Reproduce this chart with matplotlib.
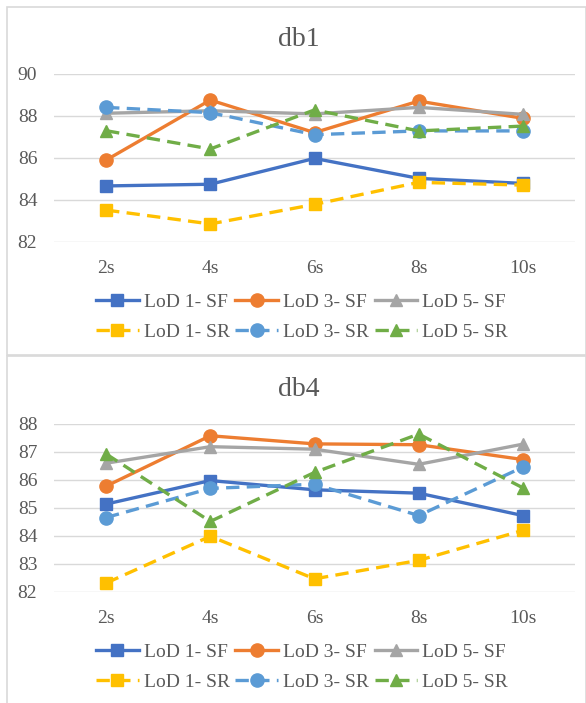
import matplotlib
matplotlib.use("Agg")
import matplotlib.pyplot as plt
from matplotlib.patches import Rectangle

# data
cats = ["2s", "4s", "6s", "8s", "10s"]
series_names = ["LoD 1- SF", "LoD 3- SF", "LoD 5- SF", "LoD 1- SR", "LoD 3- SR", "LoD 5- SR"]

db1_lod1_sf = [84.67, 84.75, 85.98, 85.03, 84.79]
db1_lod3_sf = [85.90, 88.76, 87.21, 88.71, 87.89]
db1_lod5_sf = [88.13, 88.25, 88.10, 88.41, 88.08]
db1_lod1_sr = [83.52, 82.86, 83.79, 84.84, 84.71]
db1_lod3_sr = [88.41, 88.16, 87.11, 87.29, 87.29]
db1_lod5_sr = [87.30, 86.43, 88.29, 87.29, 87.52]

db4_lod1_sf = [85.14, 85.98, 85.65, 85.53, 84.73]
db4_lod3_sf = [85.78, 87.58, 87.29, 87.26, 86.73]
db4_lod5_sf = [86.60, 87.19, 87.10, 86.56, 87.28]
db4_lod1_sr = [82.32, 83.99, 82.47, 83.13, 84.20]
db4_lod3_sr = [84.66, 85.70, 85.85, 84.73, 86.46]
db4_lod5_sr = [86.93, 84.52, 86.27, 87.64, 85.72]

colors = ["#4472C4", "#ED7D31", "#A5A5A5", "#FFC000", "#5B9BD5", "#70AD47"]
markers = ["s", "o", "^", "s", "o", "^"]
dashes = (0, (4, 2.2))
styles = ["-", "-", "-", dashes, dashes, dashes]

plt.rcParams["font.family"] = ["Liberation Serif", "DejaVu Serif"]
txt = "#595959"
W, H = 586, 703

fig = plt.figure(figsize=(W / 100, H / 100), dpi=100)

# panel borders (pixel coords -> figure fraction)
for top, bottom in [(7, 355), (356, 710)]:
    fig.patches.append(Rectangle((7 / W, 1 - bottom / H), (W - 7) / W, (bottom - top) / H,
                                 transform=fig.transFigure, fill=False,
                                 edgecolor="#D9D9D9", lw=1.2))


def draw_panel(top_px, title, data, ylo, yhi, step):
    ax = fig.add_axes([54 / W, 1 - (top_px + 168) / H, 521 / W, 168 / H])
    x = list(range(len(cats)))
    handles = []
    for vals, name, c, m, ls in zip(data, series_names, colors, markers, styles):
        h, = ax.plot(x, vals, color=c, marker=m, linestyle=ls, lw=2.4,
                     markersize=9 if m != "o" else 9.5, label=name, clip_on=False)
        handles.append(h)
    ax.set_xlim(-0.5, len(cats) - 0.5)
    ax.set_ylim(ylo, yhi)
    ax.set_yticks(range(ylo, yhi + 1, step))
    ax.set_xticks(x)
    ax.set_xticklabels(cats)
    ax.grid(axis="y", color="#D9D9D9", lw=1)
    ax.set_axisbelow(True)
    for s in ax.spines.values():
        s.set_visible(False)
    ax.tick_params(length=0, labelsize=14, colors=txt)
    ax.tick_params(axis="y", pad=12)
    ax.tick_params(axis="x", pad=13)
    fig.text(299 / W, 1 - (top_px - 35) / H, title, ha="center", va="center",
             fontsize=20, color=txt)
    # row-major legend order for ncol=3
    order = [0, 3, 1, 4, 2, 5]
    fig.legend([handles[i] for i in order], [series_names[i] for i in order],
               loc="center", bbox_to_anchor=(302 / W, 1 - (top_px + 243) / H),
               ncol=3, frameon=False, fontsize=14, labelcolor=txt,
               handlelength=2.2, handletextpad=0.25, columnspacing=0.3,
               labelspacing=0.65, borderpad=0)
    return ax


draw_panel(74, "db1", [db1_lod1_sf, db1_lod3_sf, db1_lod5_sf,
                       db1_lod1_sr, db1_lod3_sr, db1_lod5_sr], 82, 90, 2)
draw_panel(424, "db4", [db4_lod1_sf, db4_lod3_sf, db4_lod5_sf,
                        db4_lod1_sr, db4_lod3_sr, db4_lod5_sr], 82, 88, 1)

fig.savefig("out.png", dpi=100)
